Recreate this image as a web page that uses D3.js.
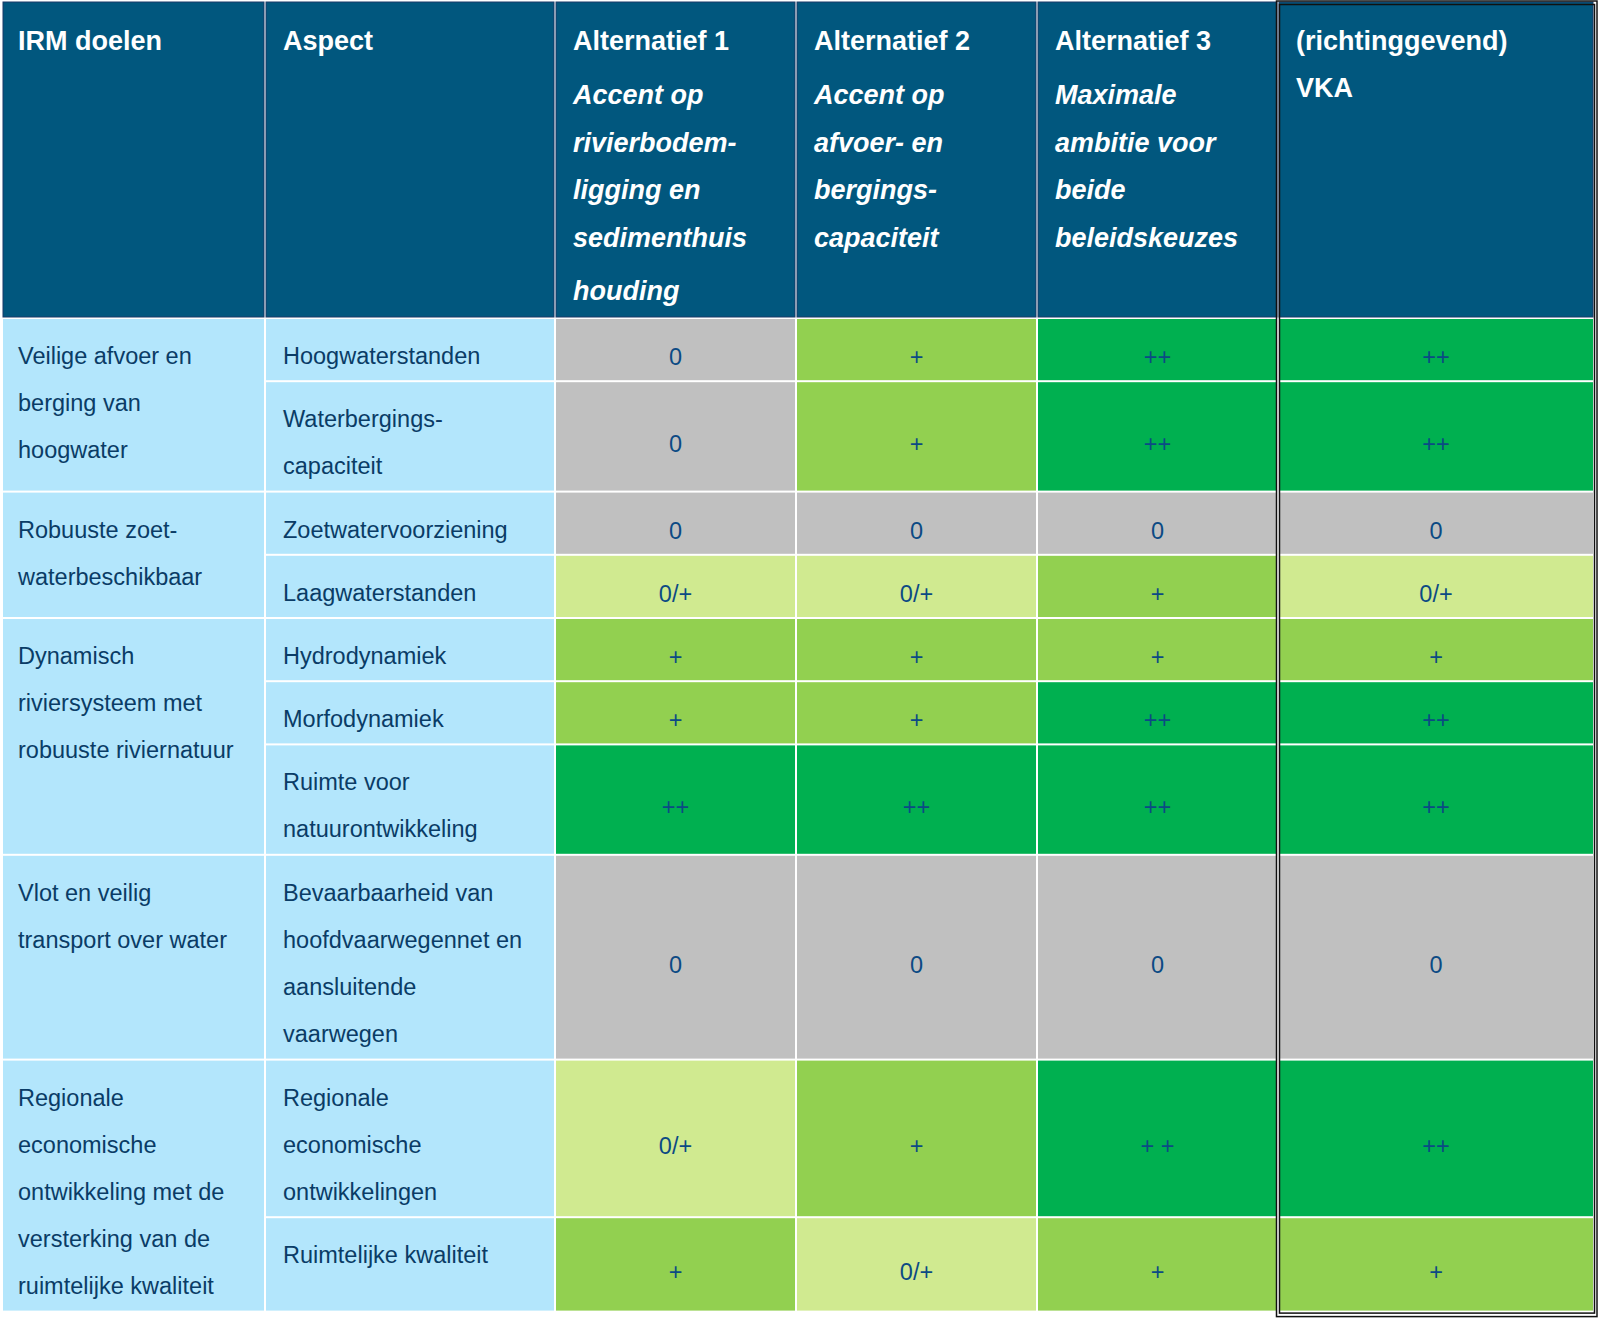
<!DOCTYPE html>
<html>
<head>
<meta charset="utf-8">
<script src="https://cdn.jsdelivr.net/npm/d3@7"></script>
<style>
  html, body { margin: 0; padding: 0; background: #ffffff; }
  svg { display: block; }
  text { font-family: "Liberation Sans", Arial, "Helvetica", sans-serif; }
</style>
</head>
<body>
<svg id="chart" width="1600" height="1320"></svg>
<script>
// ---------------- DATA ----------------
const headerTitles = ["IRM doelen", "Aspect", "Alternatief 1", "Alternatief 2", "Alternatief 3", "(richtinggevend)"];
const headerSubtitles = [
  [],
  [],
  ["Accent op", "rivierbodem-", "ligging en", "sedimenthuis", "houding"],
  ["Accent op", "afvoer- en", "bergings-", "capaciteit"],
  ["Maximale", "ambitie voor", "beide", "beleidskeuzes"],
  []
];
const vkaSecondLine = "VKA";

const goalLabels = [
  ["Veilige afvoer en", "berging van", "hoogwater"],
  ["Robuuste zoet-", "waterbeschikbaar"],
  ["Dynamisch", "riviersysteem met", "robuuste riviernatuur"],
  ["Vlot en veilig", "transport over water"],
  ["Regionale", "economische", "ontwikkeling met de", "versterking van de", "ruimtelijke kwaliteit"]
];
const goalRowCounts = [2, 2, 3, 1, 2];

const aspects = [
  ["Hoogwaterstanden"],
  ["Waterbergings-", "capaciteit"],
  ["Zoetwatervoorziening"],
  ["Laagwaterstanden"],
  ["Hydrodynamiek"],
  ["Morfodynamiek"],
  ["Ruimte voor", "natuurontwikkeling"],
  ["Bevaarbaarheid van", "hoofdvaarwegennet en", "aansluitende", "vaarwegen"],
  ["Regionale", "economische", "ontwikkelingen"],
  ["Ruimtelijke kwaliteit"]
];

const alternatief1 = ["0", "0", "0", "0/+", "+", "+", "++", "0", "0/+", "+"];
const alternatief2 = ["+", "+", "0", "0/+", "+", "+", "++", "0", "+", "0/+"];
const alternatief3 = ["++", "++", "0", "+", "+", "++", "++", "0", "+ +", "+"];
const vka          = ["++", "++", "0", "0/+", "+", "++", "++", "0", "++", "+"];

const scoreLevels = ["0", "0/+", "+", "++"];

// ---------------- LAYOUT ----------------
const colEdges = [0, 265, 555, 796, 1037, 1278, 1594];
const tableLeft = 2, tableTop = 2, headerBottom = 318;
const lineH = 47.2, cellPad = 16, textPad = 18;
const bodyFont = 23.5, headFont = 27;

const colors = {
  header: "#01577e",
  headerEdge: "#1b3b68",
  label: "#b3e6fc",
  bodyText: "#0a3c66",
  valueText: "#0c4a84"
};
const fill = d3.scaleOrdinal()
  .domain(scoreLevels)
  .range(["#c0c0c0", "#d0ea90", "#92d050", "#00b050"]);

// row heights from line counts, then stretch last row of a group if needed
const rowH = aspects.map(a => a.length * lineH + cellPad);
let ri = 0;
goalLabels.forEach((g, gi) => {
  const n = goalRowCounts[gi];
  const need = g.length * lineH + cellPad;
  const have = d3.sum(rowH.slice(ri, ri + n));
  if (need > have) rowH[ri + n - 1] += need - have;
  ri += n;
});
const rowTops = [headerBottom];
rowH.forEach((h, i) => rowTops.push(rowTops[i] + h));

const svg = d3.select("#chart");
const g = svg.append("g");

// ---------------- HEADER ----------------
const headCols = d3.range(6);
g.selectAll("rect.head").data(headCols).join("rect")
  .attr("class", "head")
  .attr("x", i => (i === 0 ? tableLeft : colEdges[i]) + 1)
  .attr("y", tableTop)
  .attr("width", i => colEdges[i + 1] - (i === 0 ? tableLeft : colEdges[i]) - 2)
  .attr("height", headerBottom - tableTop - 1)
  .attr("fill", colors.header)
  .attr("stroke", colors.headerEdge)
  .attr("stroke-width", 1);

const headBaselines = [50, 104, 152, 199, 247, 300];
headCols.forEach(i => {
  const x = colEdges[i] + textPad;
  g.append("text")
    .attr("x", x).attr("y", headBaselines[0])
    .attr("fill", "#ffffff").attr("font-size", headFont).attr("font-weight", "bold")
    .text(headerTitles[i]);
  headerSubtitles[i].forEach((s, k) => {
    g.append("text")
      .attr("x", x).attr("y", headBaselines[k + 1])
      .attr("fill", "#ffffff").attr("font-size", headFont).attr("font-weight", "bold")
      .attr("font-style", "italic")
      .text(s);
  });
});
g.append("text")
  .attr("x", colEdges[5] + textPad).attr("y", 97)
  .attr("fill", "#ffffff").attr("font-size", headFont).attr("font-weight", "bold")
  .text(vkaSecondLine);

// ---------------- GOAL CELLS ----------------
let start = 0;
goalLabels.forEach((lines, gi) => {
  const n = goalRowCounts[gi];
  const y0 = rowTops[start], y1 = rowTops[start + n];
  g.append("rect")
    .attr("x", tableLeft + 1).attr("y", y0 + 1)
    .attr("width", colEdges[1] - tableLeft - 2).attr("height", y1 - y0 - 2)
    .attr("fill", colors.label);
  lines.forEach((t, k) => {
    g.append("text")
      .attr("x", colEdges[0] + textPad).attr("y", y0 + 46 + k * 47)
      .attr("fill", colors.bodyText).attr("font-size", bodyFont)
      .text(t);
  });
  start += n;
});

// ---------------- ASPECT CELLS ----------------
aspects.forEach((lines, r) => {
  const y0 = rowTops[r], y1 = rowTops[r + 1];
  g.append("rect")
    .attr("x", colEdges[1] + 1).attr("y", y0 + 1)
    .attr("width", colEdges[2] - colEdges[1] - 2).attr("height", y1 - y0 - 2)
    .attr("fill", colors.label);
  lines.forEach((t, k) => {
    g.append("text")
      .attr("x", colEdges[1] + textPad).attr("y", y0 + 46 + k * 47)
      .attr("fill", colors.bodyText).attr("font-size", bodyFont)
      .text(t);
  });
});

// ---------------- SCORE CELLS ----------------
const series = [alternatief1, alternatief2, alternatief3, vka];
series.forEach((vals, c) => {
  const ci = c + 2;
  const x0 = colEdges[ci], x1 = colEdges[ci + 1];
  vals.forEach((v, r) => {
    const y0 = rowTops[r], y1 = rowTops[r + 1];
    const key = v.replace(/\s/g, "");
    g.append("rect")
      .attr("x", x0 + 1).attr("y", y0 + 1)
      .attr("width", x1 - x0 - 2).attr("height", y1 - y0 - 2)
      .attr("fill", fill(key));
    g.append("text")
      .attr("x", (x0 + x1) / 2).attr("y", (y0 + y1) / 2 + 15.5)
      .attr("text-anchor", "middle")
      .attr("fill", colors.valueText).attr("font-size", bodyFont)
      .attr("xml:space", "preserve")
      .style("white-space", "pre")
      .text(v);
  });
});

// ---------------- VKA DOUBLE BORDER ----------------
const tableBottom = rowTops[rowTops.length - 1];
g.append("rect")
  .attr("x", colEdges[5] - 1.5).attr("y", 1)
  .attr("width", 1597 - colEdges[5] + 1.5).attr("height", tableBottom + 4)
  .attr("fill", "none").attr("stroke", "#111").attr("stroke-width", 1.5);
g.append("rect")
  .attr("x", colEdges[5] + 1.5).attr("y", 4.5)
  .attr("width", 1594 - colEdges[5] - 1).attr("height", tableBottom - 3)
  .attr("fill", "none").attr("stroke", "#111").attr("stroke-width", 1.5);
</script>
</body>
</html>
